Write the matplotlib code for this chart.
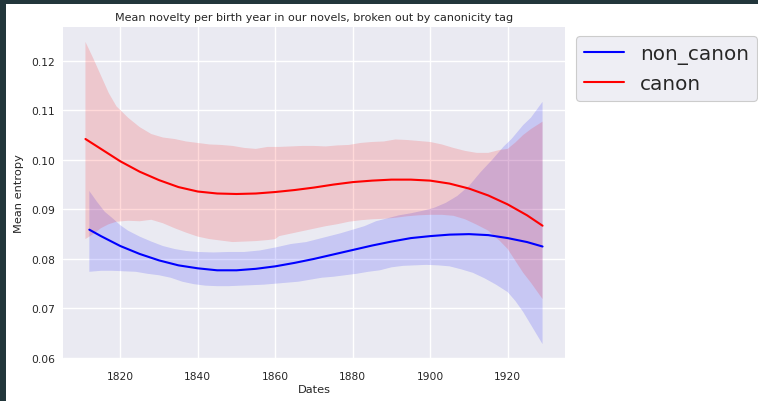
import matplotlib
matplotlib.use("Agg")
import matplotlib.pyplot as plt
from matplotlib.patches import Rectangle

# smoothed mean lines
red_years = [1811, 1815, 1820, 1825, 1830, 1835, 1840, 1845, 1850, 1855, 1860, 1865, 1870,
             1875, 1880, 1885, 1890, 1895, 1900, 1905, 1910, 1915, 1920, 1925, 1929]
canon_mean = [0.1042, 0.1022, 0.0997, 0.0976, 0.0959, 0.0945, 0.0936, 0.0932, 0.0931, 0.0932,
              0.0935, 0.0939, 0.0944, 0.0950, 0.0955, 0.0958, 0.0960, 0.0960, 0.0958, 0.0952,
              0.0942, 0.0928, 0.0910, 0.0888, 0.0867]

blue_years = [1812, 1815, 1820, 1825, 1830, 1835, 1840, 1845, 1850, 1855, 1860, 1865, 1870,
              1875, 1880, 1885, 1890, 1895, 1900, 1905, 1910, 1915, 1920, 1925, 1929]
non_canon_mean = [0.0859, 0.0846, 0.0826, 0.0810, 0.0797, 0.0787, 0.0781, 0.0777, 0.0777, 0.0780,
                  0.0785, 0.0792, 0.0800, 0.0809, 0.0818, 0.0827, 0.0835, 0.0842, 0.0846, 0.0849,
                  0.0850, 0.0848, 0.0842, 0.0834, 0.0825]

# confidence bands
canon_band_years = [1811, 1813, 1815, 1817, 1819, 1822, 1825, 1828, 1831, 1834, 1837, 1840, 1843,
                    1846, 1849, 1852, 1855, 1858, 1860, 1861, 1864, 1867, 1870, 1873, 1876, 1879,
                    1882, 1885, 1888, 1891, 1894, 1897, 1900, 1903, 1906, 1909, 1912, 1915, 1918,
                    1920, 1922, 1924, 1926, 1929]
canon_upper = [0.1238, 0.1205, 0.1170, 0.1135, 0.1108, 0.1085, 0.1066, 0.1052, 0.1045, 0.1042,
               0.1037, 0.1034, 0.1031, 0.1030, 0.1028, 0.1024, 0.1022, 0.1026, 0.1026, 0.1026,
               0.1027, 0.1028, 0.1028, 0.1027, 0.1029, 0.1030, 0.1034, 0.1036, 0.1037, 0.1041,
               0.1040, 0.1038, 0.1036, 0.1031, 0.1024, 0.1018, 0.1014, 0.1014, 0.1020, 0.1022,
               0.1035, 0.1050, 0.1062, 0.1077]
canon_lower = [0.0840, 0.0850, 0.0862, 0.0870, 0.0875, 0.0877, 0.0876, 0.0879, 0.0872, 0.0862,
               0.0853, 0.0845, 0.0840, 0.0837, 0.0834, 0.0835, 0.0836, 0.0838, 0.0840, 0.0846,
               0.0851, 0.0856, 0.0861, 0.0866, 0.0870, 0.0875, 0.0878, 0.0880, 0.0881, 0.0883,
               0.0886, 0.0888, 0.0889, 0.0889, 0.0887, 0.0880, 0.0869, 0.0857, 0.0836, 0.0820,
               0.0796, 0.0772, 0.0752, 0.0719]

non_canon_upper_years = [1812, 1814, 1816, 1818, 1820, 1822, 1825, 1828, 1831, 1834, 1837, 1840,
                         1844, 1848, 1852, 1856, 1860, 1864, 1868, 1871, 1874, 1877, 1880, 1883,
                         1886, 1889, 1892, 1895, 1898, 1901, 1904, 1907, 1910, 1913, 1916, 1919,
                         1921, 1924, 1926, 1929]
non_canon_upper = [0.0937, 0.0915, 0.0895, 0.0882, 0.0868, 0.0857, 0.0845, 0.0835, 0.0826, 0.0820,
                   0.0816, 0.0814, 0.0813, 0.0814, 0.0814, 0.0817, 0.0823, 0.0830, 0.0834, 0.0840,
                   0.0846, 0.0852, 0.0859, 0.0866, 0.0876, 0.0882, 0.0888, 0.0892, 0.0897, 0.0903,
                   0.0913, 0.0927, 0.0947, 0.0975, 0.1000, 0.1027, 0.1042, 0.1070, 0.1085, 0.1117]
non_canon_lower_years = [1812, 1815, 1818, 1821, 1824, 1827, 1830, 1833, 1836, 1839, 1842, 1845,
                         1848, 1851, 1854, 1857, 1860, 1863, 1866, 1869, 1872, 1875, 1878, 1881,
                         1884, 1887, 1890, 1893, 1896, 1899, 1902, 1905, 1908, 1911, 1914, 1917,
                         1920, 1922, 1924, 1926, 1929]
non_canon_lower = [0.0774, 0.0776, 0.0776, 0.0775, 0.0774, 0.0770, 0.0767, 0.0762, 0.0754, 0.0749,
                   0.0746, 0.0745, 0.0745, 0.0746, 0.0747, 0.0748, 0.0750, 0.0752, 0.0754, 0.0758,
                   0.0762, 0.0764, 0.0767, 0.0770, 0.0774, 0.0777, 0.0783, 0.0786, 0.0787, 0.0788,
                   0.0787, 0.0785, 0.0779, 0.0772, 0.0761, 0.0748, 0.0733, 0.0715, 0.0693, 0.0667,
                   0.0628]

x_ticks = [1820, 1840, 1860, 1880, 1900, 1920]
y_ticks = [0.06, 0.07, 0.08, 0.09, 0.10, 0.11, 0.12]

plt.style.use("seaborn-v0_8-darkgrid")
plt.rcParams["font.family"] = ["DejaVu Sans"]
plt.rcParams["text.color"] = ".15"
plt.rcParams["axes.labelcolor"] = ".15"
plt.rcParams["xtick.color"] = ".15"
plt.rcParams["ytick.color"] = ".15"

fig = plt.figure(figsize=(7.58, 4.02), dpi=100)
ax = fig.add_axes([0.0831, 0.1045, 0.7454 - 0.0831, 0.9303 - 0.1045])
ax.set_facecolor("#EAEAF2")

# NOTE: bands are built on their own year grids, so the upper edge is a
# separate polygon side from the lower edge
canon_poly_x = canon_band_years + canon_band_years[::-1]
canon_poly_y = canon_upper + canon_lower[::-1]
nc_poly_x = non_canon_upper_years + non_canon_lower_years[::-1]
nc_poly_y = non_canon_upper + non_canon_lower[::-1]

ax.fill(nc_poly_x, nc_poly_y, color="blue", alpha=0.15, lw=0)
ax.fill(canon_poly_x, canon_poly_y, color="red", alpha=0.15, lw=0)
ax.plot(blue_years, non_canon_mean, color="blue", lw=1.5, label="non_canon")
ax.plot(red_years, canon_mean, color="red", lw=1.5, label="canon")

ax.set_xlim(1805.2, 1934.8)
ax.set_ylim(0.0598, 0.1268)
ax.set_xticks(x_ticks)
ax.set_yticks(y_ticks)
ax.set_yticklabels(["%.2f" % v for v in y_ticks])
ax.tick_params(labelsize=7.7)
ax.tick_params(axis="x", pad=9)
ax.tick_params(axis="y", pad=6)
ax.grid(True, color="white", lw=1)

ax.set_title("Mean novelty per birth year in our novels, broken out by canonicity tag",
             fontsize=8, pad=5)
ax.set_xlabel("Dates", fontsize=8.2, labelpad=2)
ax.set_ylabel("Mean entropy", fontsize=8.2, labelpad=5)

leg = ax.legend(loc="upper left", bbox_to_anchor=(1.022, 0.973), borderaxespad=0,
                fontsize=14.4, frameon=True, facecolor="#EEEEF4", edgecolor="#CCCCCC",
                framealpha=1)
leg.get_frame().set_linewidth(0.8)

# dark page border from the notebook screenshot
border = "#22363B"
fig.add_artist(Rectangle((0, 1 - 5 / 402), 1, 5 / 402, transform=fig.transFigure,
                         color=border, lw=0))
fig.add_artist(Rectangle((0, 0), 6 / 758, 1, transform=fig.transFigure,
                         color=border, lw=0))

fig.savefig("out.png", dpi=100)
